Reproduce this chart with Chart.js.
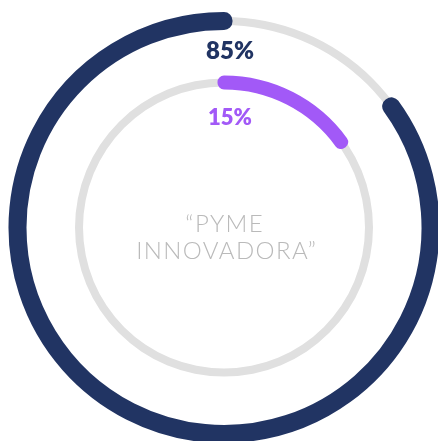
<!DOCTYPE html>
<html>
<head>
<meta charset="utf-8">
<script src="https://cdn.jsdelivr.net/npm/chart.js@4.4.1/dist/chart.umd.min.js"></script>
<style>
  html, body { margin: 0; padding: 0; background: #ffffff; overflow: hidden; }
  #wrap { position: relative; width: 438px; height: 441px; }
  #wrap canvas { position: absolute; left: 0; top: 0; }
</style>
</head>
<body>
<div id="wrap">
  <canvas id="c1" width="438" height="441"></canvas>
  <canvas id="c2" width="438" height="441"></canvas>
  <canvas id="c3" width="438" height="441"></canvas>
  <canvas id="c4" width="438" height="441"></canvas>
</div>
<script>
// ---- data ----
const outerLabels = ['Resto', 'Empresas'];
const outerValues = [15, 85];          // navy ring: 85%
const innerLabels = ['PYME innovadora', 'Resto'];
const innerValues = [15, 85];          // purple ring: 15%
const centerLines = ['\u201CPYME', 'INNOVADORA\u201D'];
const outerLabelText = '85%';
const innerLabelText = '15%';

// ---- styles ----
const NAVY = '#213463';
const PURPLE = '#a259f7';
const TRACK = '#e0e0e0';
const CLEAR = 'rgba(0,0,0,0)';

const padding = { left: 10, right: 0, top: 14, bottom: 0 };

function ring(id, labels, values, colors, borderWidths, outerR, innerR, extraPlugins) {
  return new Chart(document.getElementById(id), {
    type: 'doughnut',
    data: {
      labels: labels,
      datasets: [{
        data: values,
        backgroundColor: colors,
        borderColor: colors,
        borderWidth: borderWidths,
        borderAlign: 'center',
        borderJoinStyle: 'round',
        hoverOffset: 0
      }]
    },
    options: {
      responsive: false,
      animation: false,
      events: [],
      radius: outerR,
      cutout: (innerR / outerR * 100) + '%',
      rotation: 0,
      layout: { padding: padding },
      plugins: { legend: { display: false }, tooltip: { enabled: false } }
    },
    plugins: extraPlugins || []
  });
}

// gray tracks
ring('c1', ['track'], [100], [TRACK], [0], 210.5, 202.5);
ring('c2', ['track'], [100], [TRACK], [0], 149, 141);

// navy arc (thin core + round-joined border gives round caps)
ring('c3', outerLabels, outerValues, [CLEAR, NAVY], [0, 17], 207, 206);

const textPlugin = {
  id: 'texts',
  afterDraw(chart) {
    const ctx = chart.ctx;
    const meta = chart.getDatasetMeta(0);
    const cx = meta.data[0].x;
    const cy = meta.data[0].y;
    ctx.save();
    ctx.textAlign = 'center';
    ctx.textBaseline = 'middle';
    ctx.fillStyle = NAVY;
    ctx.font = '800 24px Lato';
    ctx.fillText(outerLabelText, cx + 6, cy - 176);
    ctx.fillStyle = PURPLE;
    ctx.font = '800 22px Lato';
    ctx.fillText(innerLabelText, cx + 6, cy - 110);
    ctx.fillStyle = '#bababa';
    ctx.font = '300 24px Lato';
    ctx.letterSpacing = '1.4px';
    ctx.fillText(centerLines[0], cx + 0.7, cy - 3);
    ctx.fillText(centerLines[1], cx + 2.7, cy + 24);
    ctx.restore();
  }
};

// purple arc
ring('c4', innerLabels, innerValues, [PURPLE, CLEAR], [13, 0], 145.5, 144.5, [textPlugin]);
</script>
</body>
</html>
